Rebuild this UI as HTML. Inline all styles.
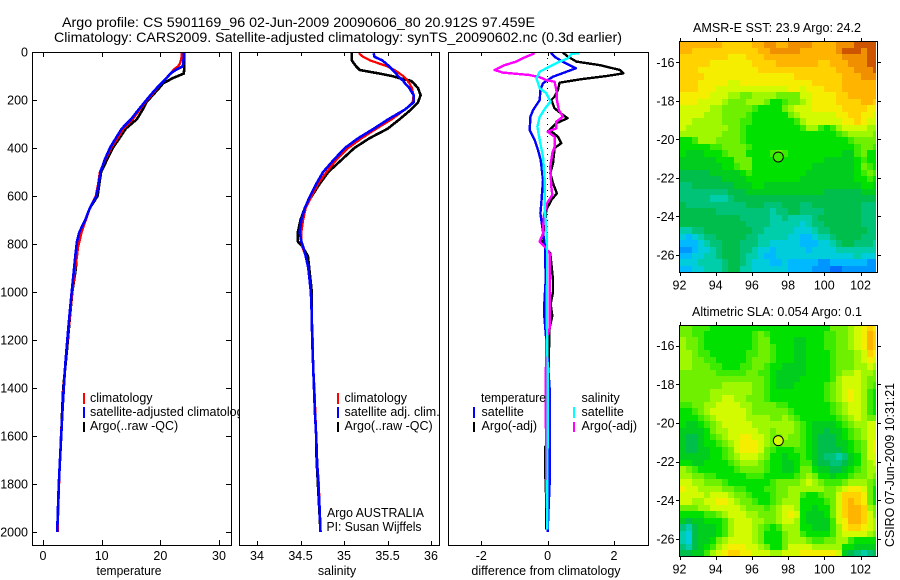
<!DOCTYPE html>
<html lang="en">
<head>
<meta charset="utf-8">
<title>Argo profile</title>
<style>
html,body{margin:0;padding:0;background:#fff;}
svg{display:block;}
text{font-family:"Liberation Sans",sans-serif;font-size:12.5px;fill:#000;}
.c{shape-rendering:crispEdges;}
</style>
</head>
<body>
<svg id="fig" xmlns="http://www.w3.org/2000/svg" width="900" height="580" viewBox="0 0 900 580">
<defs>
<clipPath id="cp1"><rect x="32" y="52" width="207" height="493"/></clipPath>
<clipPath id="cp1s"><rect x="32" y="52" width="199" height="493"/></clipPath>
<clipPath id="cp2"><rect x="240" y="52" width="199" height="493"/></clipPath>
<clipPath id="cp3"><rect x="449" y="52" width="199" height="493"/></clipPath>
<clipPath id="cpa"><rect x="680" y="42" width="196" height="230"/></clipPath>
<clipPath id="cpb"><rect x="680" y="326" width="196" height="230"/></clipPath>
</defs>
<rect width="900" height="580" fill="#fff"/>
<text x="62" y="27" style="font-size:14px" textLength="473" lengthAdjust="spacingAndGlyphs">Argo profile: CS 5901169_96 02-Jun-2009 20090606_80 20.912S 97.459E</text>
<text x="54" y="42" style="font-size:14px" textLength="568" lengthAdjust="spacingAndGlyphs">Climatology: CARS2009. Satellite-adjusted climatology: synTS_20090602.nc (0.3d earlier)</text>

<g id="p1"></g>
<g id="p2"></g>
<g id="p3"></g>
<g id="ma"></g>
<g id="mb"></g>

<g>
<rect class="c" x="83" y="393" width="2" height="11" fill="#f00"/>
<text x="90" y="402">climatology</text>
<rect class="c" x="83" y="407" width="2" height="11" fill="#00f"/>
<text x="90" y="416" clip-path="url(#cp1)">satellite-adjusted climatology</text>
<rect class="c" x="83" y="422" width="2" height="10" fill="#000"/>
<text x="90" y="430">Argo(..raw -QC)</text>
</g>
<g>
<rect class="c" x="337" y="393" width="2" height="11" fill="#f00"/>
<text x="344.5" y="402">climatology</text>
<rect class="c" x="337" y="407" width="2" height="11" fill="#00f"/>
<text x="344.5" y="416">satellite adj. clim.</text>
<rect class="c" x="337" y="422" width="2" height="10" fill="#000"/>
<text x="344.5" y="430">Argo(..raw -QC)</text>
<text x="327" y="517" textLength="97" lengthAdjust="spacingAndGlyphs">Argo AUSTRALIA</text>
<text x="326.5" y="531" textLength="95" lengthAdjust="spacingAndGlyphs">PI: Susan Wijffels</text>
</g>
<g>
<text x="481" y="402" textLength="65" lengthAdjust="spacingAndGlyphs">temperature</text>
<rect class="c" x="473" y="407" width="2" height="11" fill="#00f"/>
<text x="481.5" y="416">satellite</text>
<rect class="c" x="473" y="422" width="2" height="10" fill="#000"/>
<text x="481.5" y="430">Argo(-adj)</text>
<text x="581.5" y="402">salinity</text>
<rect class="c" x="573" y="407" width="2" height="11" fill="#0ff"/>
<text x="581.5" y="416">satellite</text>
<rect class="c" x="573" y="422" width="2" height="10" fill="#f0f"/>
<text x="581.5" y="430">Argo(-adj)</text>
</g>

<text x="129" y="575" text-anchor="middle" textLength="65" lengthAdjust="spacingAndGlyphs">temperature</text>
<text x="337" y="575" text-anchor="middle">salinity</text>
<text x="546" y="575" text-anchor="middle">difference from climatology</text>
<text x="777" y="32" text-anchor="middle" textLength="168" lengthAdjust="spacingAndGlyphs">AMSR-E SST: 23.9 Argo: 24.2</text>
<text x="777" y="316" text-anchor="middle" textLength="170" lengthAdjust="spacingAndGlyphs">Altimetric SLA: 0.054 Argo: 0.1</text>
<text transform="translate(894,547) rotate(-90)" textLength="164" lengthAdjust="spacingAndGlyphs">CSIRO 07-Jun-2009 10:31:21</text>
</svg>
<script>
var depthTicks = [0,200,400,600,800,1000,1200,1400,1600,1800,2000];
var tempTicks = [0,10,20,30];
var salTicks = ['34','34.5','35','35.5','36'];
var diffTicks = [-2,0,2];
var lonTicks = [92,94,96,98,100,102];
var latTicks = [-16,-18,-20,-22,-24,-26];

var profileDepths = [5,20,35,50,60,75,90,100,110,120,130,150,180,210,240,280,320,360,400,450,500,550,600,650,700,750,790,810,850,900,1000,1100,1200,1300,1400,1500,1600,1700,1800,1900,2000];
var tempArgo = [24.1,24.1,24.1,24.1,24.1,24.05,24.0,23.0,22,21.3,20.5,19.8,18.7,17.6,17.0,16.0,14.1,13.0,11.9,10.9,9.9,9.6,9.3,8.0,7.2,6.2,5.8,5.8,5.7,5.6,5.0,4.6,4.25,3.85,3.45,3.25,3.1,2.9,2.7,2.55,2.45];
var tempClim = [23.6,23.6,23.5,23.3,23.0,22.2,21.8,21.3,21.0,20.6,20.2,19.5,18.5,17.4,16.5,15.3,13.7,12.7,11.6,10.6,9.7,9.4,9.0,8.0,7.3,6.6,6.2,6.0,5.8,5.5,5.0,4.6,4.2,3.8,3.5,3.3,3.05,2.9,2.75,2.6,2.5];
var tempSat = [24.0,24.0,23.95,23.9,23.8,22.6,21.7,21.4,21.0,20.6,20.2,19.4,18.3,17.3,16.3,15.0,13.4,12.4,11.4,10.5,9.8,9.5,9.1,8.0,7.2,6.2,5.8,5.7,5.5,5.3,4.9,4.5,4.15,3.8,3.55,3.3,3.1,2.9,2.7,2.55,2.42];
var salArgo = [35.09,35.09,35.09,35.12,35.14,35.18,35.41,35.55,35.65,35.77,35.80,35.85,35.88,35.85,35.77,35.64,35.50,35.29,35.12,34.97,34.82,34.72,34.63,34.55,34.50,34.47,34.47,34.52,34.585,34.60,34.63,34.63,34.635,34.645,34.655,34.665,34.68,34.685,34.70,34.715,34.73];
var salClim = [35.17,35.22,35.30,35.42,35.5,35.58,35.64,35.68,35.71,35.73,35.75,35.78,35.80,35.79,35.70,35.55,35.37,35.20,35.05,34.91,34.80,34.70,34.63,34.56,34.53,34.51,34.51,34.52,34.56,34.59,34.62,34.63,34.64,34.645,34.66,34.67,34.68,34.69,34.71,34.72,34.73];
var salSat = [35.34,35.35,35.44,35.49,35.52,35.56,35.60,35.62,35.65,35.68,35.70,35.75,35.80,35.80,35.70,35.51,35.34,35.16,35.01,34.88,34.76,34.68,34.61,34.55,34.51,34.49,34.51,34.53,34.56,34.59,34.62,34.63,34.635,34.645,34.655,34.665,34.68,34.69,34.705,34.72,34.73];

var diffTempArgoDepths = [0,20,40,55,75,89,100,114,128,158,186,200,235,262,276,297,325,353,380,400,464,505,547,589,617,658,728,783,818,839,950,1000,1050,1100,1150,1300,1640,1645,1730,1840,1990];
var diffTempArgo = [0.44,0.62,0.87,1.58,2.18,2.28,1.78,0.97,0.36,0.31,0.21,0.11,0.21,0.46,0.6,0.26,0.06,0.31,0.41,0.21,0.16,0.08,0.16,0.28,0.11,-0.04,-0.09,-0.19,-0.06,0.08,0.16,0.16,0.09,0.14,0.06,0.03,0.0,-0.08,-0.08,-0.05,-0.05];
var diffTempSatDepths = [0,20,40,68,82,103,130,158,200,242,270,325,367,408,450,533,631,672,728,811,950,1050,1100,1200,1400,1600,1800,2000];
var diffTempSat = [0.08,0.21,0.45,0.85,0.57,0.16,-0.14,-0.22,-0.24,-0.44,-0.52,-0.54,-0.39,-0.29,-0.21,-0.14,-0.19,-0.22,-0.16,-0.08,-0.06,-0.1,-0.1,-0.04,0.06,0.06,0.06,0.0];
var diffSalArgoDepths = [5,26,40,55,75,86,96,105,117,124,172,200,242,270,290,318,332,353,394,422,478,561,596,631,686,756,790,811,839,950,1150,1200,1400,1600,1800,1900];
var diffSalArgo = [-0.39,-0.75,-0.95,-1.3,-1.6,-1.35,-0.55,-0.24,-0.04,0.21,0.28,0.28,0.34,0.46,0.26,0.26,0.0,0.21,0.21,0.14,0.08,0.11,0.14,-0.02,-0.12,-0.14,-0.24,-0.09,0.06,0.06,0.06,-0.04,-0.06,-0.05,-0.04,-0.03];
var diffSalSatDepths = [5,8,26,40,61,82,110,151,172,207,228,270,311,367,436,533,644,783,950,1100,1300,1600,1990];
var diffSalSat = [0.95,0.72,0.62,0.36,0.06,-0.24,-0.34,-0.24,-0.04,0.09,-0.04,-0.24,-0.31,-0.24,-0.14,-0.09,-0.09,-0.02,-0.02,-0.03,0.0,0.0,-0.01];
var diffZeroLine = [0,2000];

var sstRows = [
[15,15,15,15,15,15,15,14,14,14,14,14,15,15,16,16,15,15,16,16,16,16,15,15,15,15,16,16,16,17,17,17,17],
[15,15,14,14,14,14,14,14,14,14,14,14,14,15,15,16,16,16,16,16,15,15,15,15,15,15,16,17,17,17,16,17,17],
[14,14,14,14,14,14,14,14,13,13,13,14,14,14,15,15,15,15,15,15,15,15,15,15,15,15,15,16,16,16,16,17,17],
[14,14,14,14,14,13,13,13,13,13,13,13,14,14,14,14,15,15,15,15,15,15,15,14,14,15,15,15,16,16,16,17,17],
[14,14,14,13,13,13,13,13,13,13,13,13,13,14,14,14,14,14,14,14,14,14,14,14,14,14,15,15,15,16,16,16,17],
[14,14,14,14,13,13,13,13,13,13,13,13,13,13,13,13,13,13,13,14,14,14,14,14,14,14,14,15,15,15,16,16,16],
[14,14,14,13,13,13,13,13,12,12,13,13,13,13,13,13,13,13,13,13,13,13,14,14,14,14,14,15,15,15,15,15,15],
[14,14,14,13,13,13,12,12,12,12,12,12,12,12,12,12,12,12,13,13,12,13,13,13,14,14,14,15,15,15,15,15,15],
[13,13,13,13,13,12,12,12,11,11,10,10,11,11,11,11,10,10,10,10,12,12,13,13,13,13,14,14,15,15,15,15,15],
[13,13,13,12,12,12,12,11,10,10,10,11,11,11,10,8,8,9,10,10,11,12,13,13,13,13,14,14,14,14,15,15,14],
[12,12,12,12,12,11,11,10,10,10,10,10,9,8,8,8,8,10,11,12,12,12,13,13,13,13,13,14,14,14,14,13,13],
[12,12,12,12,11,11,11,10,10,10,10,9,8,8,8,8,8,8,10,11,12,12,12,12,12,12,13,13,14,14,13,13,12],
[12,12,11,11,11,11,11,10,10,10,9,9,8,8,8,8,8,8,8,9,11,12,12,12,12,12,12,13,13,14,13,12,12],
[12,11,11,11,11,11,11,11,10,10,9,8,8,8,8,8,8,8,8,8,9,11,11,9,8,9,11,12,12,12,12,11,11],
[11,11,11,11,11,11,11,10,10,10,9,8,8,8,8,8,8,8,8,8,8,8,8,8,8,8,9,10,11,11,11,11,10],
[8,8,9,11,11,11,10,10,10,10,9,8,8,8,8,8,8,8,8,8,8,8,8,8,8,8,8,8,9,10,10,10,10],
[8,8,8,8,8,9,9,10,10,10,10,9,8,8,8,8,8,8,8,8,8,8,8,8,8,8,8,8,8,9,10,10,9],
[8,7,7,7,8,8,8,9,10,10,10,8,8,8,8,9,10,9,8,8,8,8,8,8,8,8,8,7,7,9,10,8,8],
[7,7,7,7,7,7,8,8,8,10,10,10,8,8,8,8,8,8,8,8,8,8,8,8,7,7,7,7,7,8,9,8,8],
[7,7,7,7,7,7,7,8,8,9,10,10,8,8,8,8,8,8,8,8,8,8,7,7,7,7,7,7,7,8,10,9,8],
[6,6,6,6,6,7,7,7,7,7,8,9,8,8,8,8,8,8,8,8,8,7,7,7,7,7,7,7,7,8,9,10,9],
[6,6,6,6,6,6,6,7,7,7,7,8,8,8,8,8,8,8,8,8,7,7,7,7,7,7,7,7,7,8,8,9,8],
[5,5,6,6,6,6,6,6,6,7,7,7,8,8,7,7,7,7,7,7,7,7,7,7,7,7,7,7,7,7,8,8,7],
[5,5,5,5,5,5,5,5,6,6,6,7,7,7,7,7,7,7,7,7,7,7,7,7,6,6,6,6,6,6,7,7,7],
[5,5,5,5,5,4,4,4,5,6,6,6,6,6,6,6,6,6,6,6,6,6,6,6,6,6,6,6,6,6,6,6,6],
[6,5,5,5,5,5,5,5,5,5,5,6,6,6,5,5,5,6,6,6,5,5,6,6,6,6,6,6,6,6,5,5,5],
[6,6,6,6,6,6,5,5,5,5,5,5,5,5,5,4,5,5,6,6,5,5,5,5,6,6,6,6,6,6,5,5,5],
[6,6,6,6,6,6,6,6,6,6,5,5,5,5,5,4,4,5,4,4,4,4,5,6,6,6,6,6,6,6,5,5,5],
[6,6,6,6,6,6,6,6,6,6,6,5,5,5,5,4,4,4,4,4,3,4,5,5,6,6,6,6,6,6,5,5,5],
[4,4,5,5,6,6,6,6,6,6,6,6,5,5,4,4,4,4,4,3,3,3,4,5,5,6,6,6,6,6,6,5,5],
[3,2,3,4,5,5,6,6,6,6,6,5,5,4,4,4,4,4,3,3,2,2,3,4,4,5,6,6,6,6,5,5,5],
[2,2,2,3,4,5,5,6,6,6,5,5,5,4,4,3,3,3,3,3,2,2,2,3,3,4,5,6,6,5,5,5,4],
[1,1,2,3,3,4,5,6,6,6,5,5,4,3,3,2,3,3,3,3,3,2,3,3,3,3,4,4,4,4,4,4,4],
[2,2,3,3,4,4,5,6,6,6,5,4,4,3,2,2,3,3,3,3,3,3,3,3,3,3,3,3,3,4,3,3,3],
[3,3,3,4,4,4,4,5,6,6,5,4,3,3,3,2,2,3,2,2,2,2,2,1,1,2,2,2,2,2,2,1,1],
[2,2,3,3,4,4,4,5,6,6,4,4,3,3,3,3,3,3,2,2,2,2,1,1,1,0,0,1,1,1,1,1,1]
];
var slaRows = [
[10,10,9,9,9,8,8,8,8,8,8,8,8,8,8,8,8,8,8,8,8,8,8,8,8,10,10,10,11,12,13,14,13],
[10,10,9,9,8,8,8,8,8,8,8,8,9,10,9,8,8,8,8,8,8,8,8,8,9,9,10,10,11,12,13,15,14],
[11,10,10,9,8,8,8,8,8,8,8,8,9,10,10,8,8,8,8,7,7,8,8,8,9,9,10,10,11,12,13,15,14],
[11,10,10,9,8,8,8,8,8,8,8,8,9,10,10,9,8,8,8,7,7,8,8,8,9,9,10,10,11,12,13,15,14],
[11,11,10,9,9,8,8,8,8,8,8,9,9,10,10,9,8,8,8,7,7,8,8,8,8,9,10,10,10,11,12,14,13],
[11,11,10,10,9,9,8,8,8,8,8,9,10,10,10,9,8,8,8,7,7,8,8,8,8,9,10,10,10,11,12,13,12],
[11,11,10,10,10,9,9,8,8,8,9,9,10,10,9,8,8,7,7,7,7,8,8,8,8,9,10,10,10,11,11,12,11],
[10,10,10,10,10,10,9,9,9,9,9,10,10,9,9,8,7,7,7,7,7,8,8,8,8,9,10,11,11,12,11,11,10],
[10,10,10,10,10,10,10,10,10,10,10,10,10,10,9,8,7,7,7,7,8,8,8,8,8,9,11,12,12,12,11,10,10],
[10,10,10,10,10,10,10,11,11,11,11,11,10,10,9,8,7,7,7,8,8,8,8,8,9,10,11,12,12,12,11,10,9],
[10,10,10,10,10,11,11,11,11,11,11,11,10,10,9,8,8,8,8,8,8,8,8,8,9,10,11,12,13,12,11,9,8],
[10,10,10,10,10,11,11,12,12,11,11,10,10,10,9,8,8,8,8,8,8,8,8,8,9,10,11,12,13,12,11,9,8],
[9,9,10,10,11,11,12,12,12,12,11,11,10,10,10,10,9,9,8,8,8,8,8,8,8,9,10,11,12,12,11,9,8],
[8,8,9,10,11,12,12,12,12,12,12,11,10,10,10,10,10,10,9,8,8,8,8,8,8,9,10,11,12,12,11,9,8],
[8,8,8,9,10,11,12,12,12,12,12,11,11,11,11,10,10,11,10,9,8,8,8,8,8,8,9,10,11,12,11,10,10],
[8,7,7,8,9,10,11,12,12,12,12,12,11,11,11,11,11,11,11,10,9,8,7,7,7,7,8,9,10,11,11,12,12],
[7,7,7,7,8,10,11,11,12,12,12,12,12,11,11,10,11,11,11,10,9,8,7,7,6,7,7,8,9,10,11,12,12],
[7,6,6,7,8,9,10,11,12,12,13,13,12,12,11,10,10,11,10,10,9,8,7,6,6,6,7,8,9,10,11,12,12],
[7,6,6,7,8,8,9,10,11,12,13,13,13,12,11,10,9,10,10,10,9,8,7,6,6,6,7,7,8,9,10,12,13],
[7,6,6,7,7,8,8,9,10,12,13,13,13,12,10,9,8,8,8,9,9,8,7,6,6,6,6,7,8,9,10,12,13],
[7,7,7,7,7,8,8,9,10,11,12,12,12,11,10,8,8,7,8,8,9,8,7,6,5,5,4,5,7,8,10,12,12],
[8,8,7,7,8,8,8,8,9,10,11,11,11,10,9,8,8,7,7,8,9,9,7,6,6,5,5,6,7,8,10,11,12],
[11,10,9,8,8,8,8,8,8,9,10,10,10,10,9,8,8,7,7,8,10,10,8,7,7,6,6,7,8,9,10,11,11],
[11,11,10,10,9,9,8,8,8,8,8,9,9,9,8,8,8,8,8,9,10,11,10,8,8,7,8,8,9,10,10,11,10],
[12,12,11,11,10,10,10,9,8,8,8,8,8,8,8,9,10,10,10,10,11,12,11,10,9,9,9,10,11,11,11,10,9],
[13,12,12,11,11,11,11,10,10,9,9,8,8,8,9,9,10,10,11,11,11,11,11,11,10,10,11,12,13,13,12,10,8],
[12,12,12,12,11,12,12,12,11,10,10,9,8,8,8,9,10,10,11,11,9,8,8,9,10,10,12,14,14,14,13,10,8],
[12,12,11,11,12,12,13,13,12,11,10,10,9,8,8,9,10,11,11,11,8,8,8,8,9,10,12,14,15,14,13,10,8],
[10,10,10,11,11,12,12,12,12,12,11,10,10,10,9,10,11,12,12,11,8,8,7,8,8,10,12,14,15,15,14,11,10],
[8,8,8,8,9,9,10,11,12,12,12,11,11,10,10,10,11,12,13,12,8,7,7,7,8,10,12,14,15,15,14,12,10],
[7,6,7,7,8,8,8,9,11,12,12,12,11,11,10,10,11,12,12,11,8,7,7,7,7,9,12,13,15,15,14,12,11],
[5,4,6,7,7,7,8,9,11,12,12,12,11,10,9,8,9,11,11,11,8,8,7,7,7,9,11,13,14,14,13,12,11],
[4,3,6,7,7,7,8,9,11,12,12,12,11,10,8,8,8,10,11,11,9,8,8,8,8,9,11,12,12,12,12,11,10],
[4,3,6,7,7,8,10,11,12,12,12,12,11,10,8,8,8,10,11,11,11,10,9,9,10,10,11,11,9,8,8,8,8],
[5,4,6,7,8,9,11,12,13,13,13,12,12,11,10,8,8,10,12,12,12,12,11,11,11,11,11,8,8,7,7,7,7],
[6,6,7,7,9,11,12,13,14,14,13,13,12,12,12,11,11,12,12,12,13,13,13,13,13,13,12,7,6,5,4,5,6]
];
var floatPosition = [97.459,-20.912];
var sstArgoLevel = [9];
var slaArgoLevel = [12];

var NS = 'http://www.w3.org/2000/svg';
var palette = ['#006eff','#0096ff','#00b9ff','#00cddc','#00cdaa','#00c378','#00be4b','#00cd1e','#00e100','#3ceb00','#6ef000','#a0f800','#d2fa00','#f5ee00','#ffd200','#ffb400','#f09000','#cd5500'];

function make(tag, parent, attrs, txt) {
  var el = document.createElementNS(NS, tag);
  for (var k in attrs) el.setAttribute(k, attrs[k]);
  if (txt !== undefined) el.textContent = txt;
  parent.appendChild(el);
  return el;
}
function linear(d0, d1, r0, r1) {
  return function (v) { return r0 + (v - d0) * (r1 - r0) / (d1 - d0); };
}
var yDepth = linear(0, 2000, 52, 532);
var xTemp = linear(0, 30, 43, 219);
var xSal = linear(34, 36, 257, 431);
var xDiff = linear(-2, 2, 481.3, 614);
var xLon = linear(92, 102, 679.5, 860.5);
var yLatA = linear(-16, -26, 62.3, 255);
var yLatB = linear(-16, -26, 345.7, 539);

function series(parent, xs, depths, values, color, width, clip) {
  var pts = [];
  for (var i = 0; i < values.length; i++) {
    pts.push(xs(values[i]).toFixed(1) + ',' + yDepth(depths[i]).toFixed(1));
  }
  return make('polyline', parent, {points: pts.join(' '), fill: 'none', stroke: color, 'stroke-width': width, 'clip-path': 'url(#' + clip + ')', 'stroke-linejoin': 'round', 'shape-rendering': 'crispEdges'});
}
function panelFrame(parent, x0, x1) {
  var fr = make('rect', parent, {x: x0 + 0.5, y: 52.5, width: x1 - x0, height: 493, fill: 'none', stroke: '#000', 'stroke-width': 1, class: 'c'});
  
  
}
function xTicks(parent, xs, labels, len) {
  labels.forEach(function (lab) {
    var px = Math.round(xs(+lab)) + 0.5;
    var t1 = make('line', parent, {x1: px, x2: px, y1: 52, y2: 52 + len, stroke: '#000', class: 'c'});
    
    
    var t2 = make('line', parent, {x1: px, x2: px, y1: 545, y2: 545 - len, stroke: '#000', class: 'c'});
    
    
    var tl = make('text', parent, {x: xs(+lab), y: 560, 'text-anchor': 'middle'}, String(lab));
    
    
  });
}

/* temperature panel */
var p1 = document.getElementById('p1');
var l;
l = series(p1, xTemp, profileDepths, tempArgo, '#000', 2.6, 'cp1s');


l = series(p1, xTemp, profileDepths, tempClim, '#f00', 2.3, 'cp1s');


l = series(p1, xTemp, profileDepths, tempSat, '#00f', 2.6, 'cp1s');


panelFrame(p1, 32, 231);
xTicks(p1, xTemp, tempTicks, 5);
depthTicks.forEach(function (d) {
  var py = Math.round(yDepth(d)) + 0.5;
  var a = make('line', p1, {x1: 32, x2: 37, y1: py, y2: py, stroke: '#000', class: 'c'});
  
  
  var b = make('line', p1, {x1: 231, x2: 226, y1: py, y2: py, stroke: '#000', class: 'c'});
  
  
  var c = make('text', p1, {x: 28, y: yDepth(d) + 4.5, 'text-anchor': 'end'}, String(d));
  
  
});

/* salinity panel */
var p2 = document.getElementById('p2');
l = series(p2, xSal, profileDepths, salArgo, '#000', 2.6, 'cp2');


l = series(p2, xSal, profileDepths, salClim, '#f00', 2.3, 'cp2');


l = series(p2, xSal, profileDepths, salSat, '#00f', 2.6, 'cp2');


panelFrame(p2, 239, 439);
xTicks(p2, xSal, salTicks, 4);

/* difference panel */
var p3 = document.getElementById('p3');
var z = make('line', p3, {x1: xDiff(0), x2: xDiff(0), y1: yDepth(diffZeroLine[0]), y2: yDepth(diffZeroLine[1]), stroke: '#000', 'stroke-width': 1, 'stroke-dasharray': '1 5', class: 'c'});


l = series(p3, xDiff, diffTempArgoDepths, diffTempArgo, '#000', 2.4, 'cp3');


l = series(p3, xDiff, diffTempSatDepths, diffTempSat, '#00f', 2.4, 'cp3');


l = series(p3, xDiff, diffSalArgoDepths, diffSalArgo, '#f0f', 2.4, 'cp3');


l = series(p3, xDiff, diffSalSatDepths, diffSalSat, '#0ff', 2.4, 'cp3');


panelFrame(p3, 448, 648);
xTicks(p3, xDiff, diffTicks, 4);

/* maps */
function drawMap(parent, rows, yLat, clip, top, bottom, argoLevel) {
  var cells = make('g', parent, {'clip-path': 'url(#' + clip + ')'});
  
  
  rows.forEach(function (row, j) {
    var latTop = -14.9 - j / 3;
    var y0 = Math.round(yLat(latTop));
    var y1 = Math.round(yLat(latTop - 1 / 3));
    row.forEach(function (v, i) {
      var lon = 92 + i / 3;
      var x0 = Math.round(xLon(lon));
      var x1 = Math.round(xLon(lon + 1 / 3));
      var r = make('rect', cells, {x: x0, y: y0, width: x1 - x0, height: y1 - y0, fill: palette[v], class: 'c'});
      
      
    });
  });
  var f = make('rect', parent, {x: 679.5, y: top + 0.5, width: 198, height: bottom - top, fill: 'none', stroke: '#000', class: 'c'});
  
  
  lonTicks.forEach(function (lon) {
    var px = Math.round(xLon(lon)) + 0.5;
    var a = make('line', parent, {x1: px, x2: px, y1: top, y2: top - 3, stroke: '#000', class: 'c'});
    
    
    var b = make('line', parent, {x1: px, x2: px, y1: bottom + 1, y2: bottom + 4, stroke: '#000', class: 'c'});
    
    
    var t = make('text', parent, {x: xLon(lon), y: bottom + 17.5, 'text-anchor': 'middle'}, String(lon));
    
    
  });
  latTicks.forEach(function (lat) {
    var py = Math.round(yLat(lat)) + 0.5;
    var a = make('line', parent, {x1: 679, x2: 676, y1: py, y2: py, stroke: '#000', class: 'c'});
    
    
    var b = make('line', parent, {x1: 878, x2: 881, y1: py, y2: py, stroke: '#000', class: 'c'});
    
    
    var t = make('text', parent, {x: 674.5, y: yLat(lat) + 4.5, 'text-anchor': 'end'}, String(lat));
    
    
  });
  var m = make('circle', parent, {cx: xLon(floatPosition[0]), cy: yLat(floatPosition[1]), r: 5, fill: palette[argoLevel[0]], stroke: '#000', 'stroke-width': 1});
  
  
}
drawMap(document.getElementById('ma'), sstRows, yLatA, 'cpa', 41, 272, sstArgoLevel);
drawMap(document.getElementById('mb'), slaRows, yLatB, 'cpb', 325, 556, slaArgoLevel);
</script>
</body>
</html>
